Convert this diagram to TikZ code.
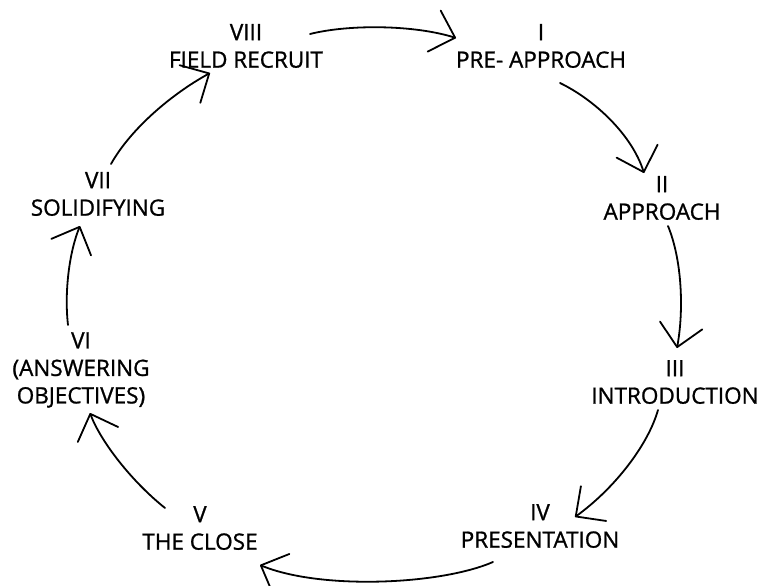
\documentclass[tikz,border=0pt]{standalone}
\usepackage{fontspec}
\setmainfont{Open Sans}
\newfontfamily\lblfont{Open Sans}[FakeBold=1]
\usetikzlibrary{arrows.meta}
\begin{document}
\begin{tikzpicture}[x=1pt,y=-1pt,
  lbl/.style={align=center,inner sep=0pt,font=\fontsize{22.5}{27.5}\selectfont\lblfont},
  cyc/.style={line width=1.8pt,line cap=round,
    -{Straight Barb[length=22pt,width=43pt,line width=1.8pt,round]}}]
\useasboundingbox (0,0) rectangle (761,586);
% labels
\node[lbl] (n8) at (246,46) {VIII\\FIELD RECRUIT};
\node[lbl] (n1) at (541,46) {I\\PRE- APPROACH};
\node[lbl] (n2) at (662,198) {II\\APPROACH};
\node[lbl] (n3) at (675,382) {III\\INTRODUCTION};
\node[lbl] (n4) at (540,526) {IV\\PRESENTATION};
\node[lbl] (n5) at (200,528) {V\\THE CLOSE};
\node[lbl] (n6) at (81,370) {VI\\(ANSWERING\\OBJECTIVES)};
\node[lbl] (n7) at (98,194) {VII\\SOLIDIFYING};
% connector ends
\coordinate (s1) at (310,34);  \coordinate (e1) at (456,38);
\coordinate (s2) at (560,83);  \coordinate (e2) at (644,173);
\coordinate (s3) at (668,226); \coordinate (e3) at (677,348);
\coordinate (s4) at (658,410); \coordinate (e4) at (575,517);
\coordinate (s5) at (493,562); \coordinate (e5) at (260,565);
\coordinate (s6) at (165,508); \coordinate (e6) at (90,413);
\coordinate (s7) at (68,325);  \coordinate (e7) at (80,226);
\coordinate (s8) at (111,164); \coordinate (e8) at (210,73);
% connectors
\draw[cyc] (s1) .. controls (350,24) and (415,25) .. (e1);
\draw[cyc] (s2) .. controls (595,100) and (632,135) .. (e2);
\draw[cyc] (s3) .. controls (682,260) and (684,310) .. (e3);
\draw[cyc] (s4) .. controls (648,445) and (615,488) .. (e4);
\draw[cyc] (s5) .. controls (440,585) and (320,590) .. (e5);
\draw[cyc] (s6) .. controls (130,480) and (100,440) .. (e6);
\draw[cyc] (s7) .. controls (64,290) and (70,250) .. (e7);
\draw[cyc] (s8) .. controls (130,130) and (170,95) .. (e8);
\end{tikzpicture}
\end{document}
